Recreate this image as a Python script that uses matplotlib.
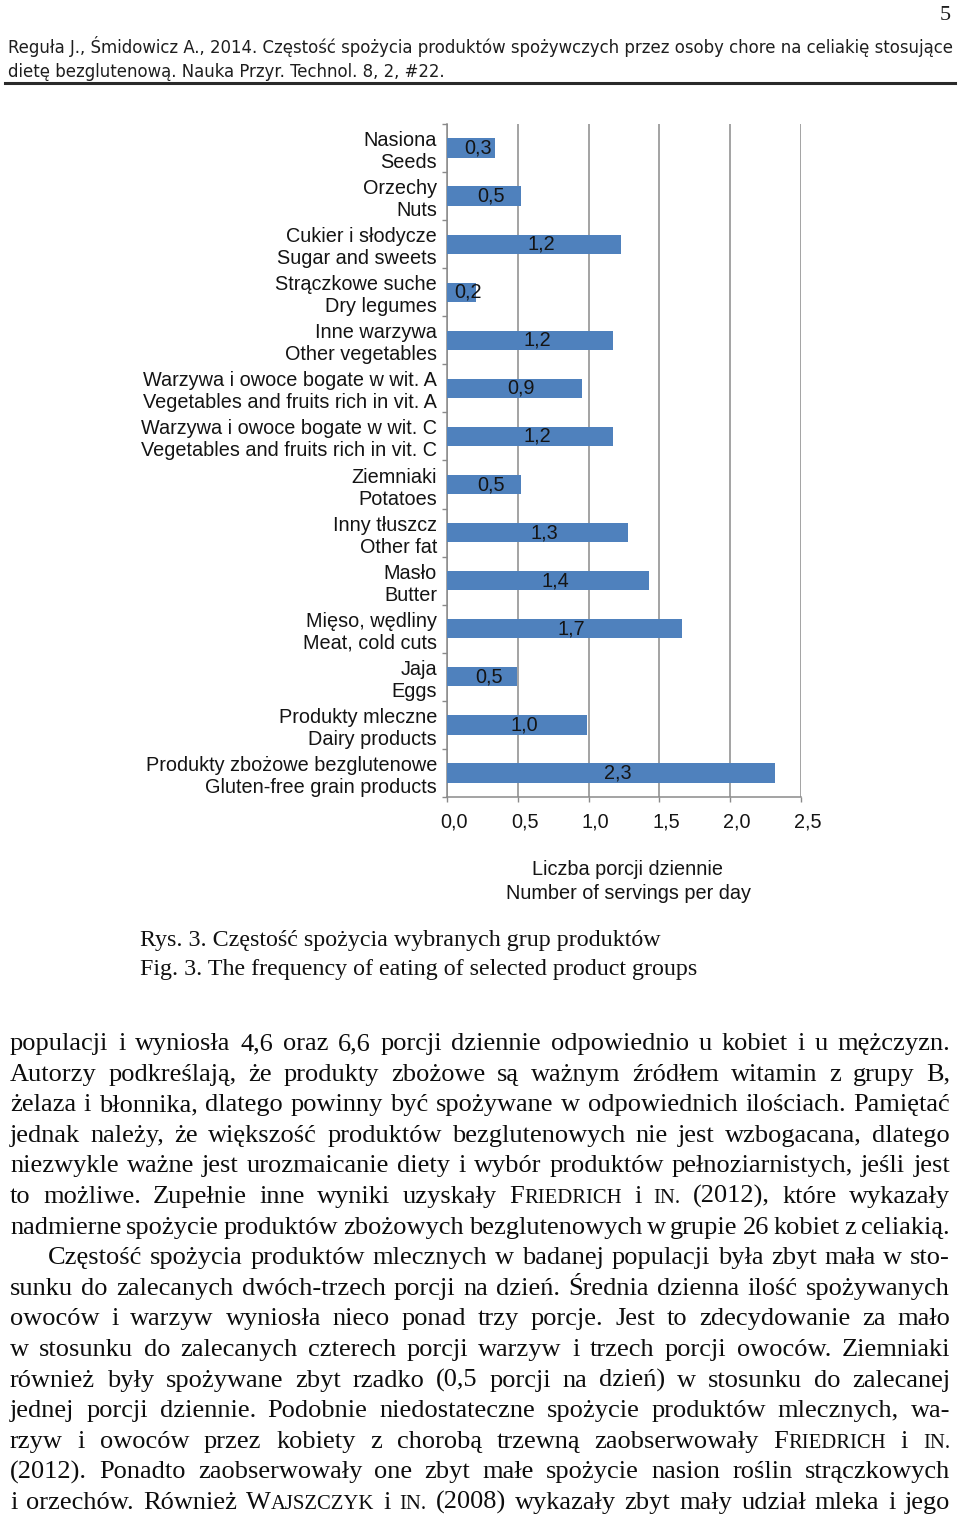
import numpy as np
import matplotlib
matplotlib.use("Agg")
import matplotlib.pyplot as plt
from matplotlib.lines import Line2D
from matplotlib.transforms import ScaledTranslation

# ---------------- data ----------------
categories = [
    "Nasiona\nSeeds",
    "Orzechy\nNuts",
    "Cukier i słodycze\nSugar and sweets",
    "Strączkowe suche\nDry legumes",
    "Inne warzywa\nOther vegetables",
    "Warzywa i owoce bogate w wit. A\nVegetables and fruits rich in vit. A",
    "Warzywa i owoce bogate w wit. C\nVegetables and fruits rich in vit. C",
    "Ziemniaki\nPotatoes",
    "Inny tłuszcz\nOther fat",
    "Masło\nButter",
    "Mięso, wędliny\nMeat, cold cuts",
    "Jaja\nEggs",
    "Produkty mleczne\nDairy products",
    "Produkty zbożowe bezglutenowe\nGluten-free grain products",
]
values = [0.34, 0.52, 1.23, 0.20, 1.17, 0.95, 1.17, 0.52, 1.28, 1.43, 1.66, 0.49, 0.99, 2.32]
value_labels = ["0,3", "0,5", "1,2", "0,2", "1,2", "0,9", "1,2", "0,5", "1,3", "1,4", "1,7", "0,5", "1,0", "2,3"]
xticks = [0.0, 0.5, 1.0, 1.5, 2.0, 2.5]
xtick_labels = ["0,0", "0,5", "1,0", "1,5", "2,0", "2,5"]
xlabel = "Liczba porcji dziennie\nNumber of servings per day"

header_lines = [
    "Reguła J., Śmidowicz A., 2014. Częstość spożycia produktów spożywczych przez osoby chore na celiakię stosujące",
    "dietę bezglutenową. Nauka Przyr. Technol. 8, 2, #22.",
]
page_number = "5"
caption_lines = [
    "Rys. 3. Częstość spożycia wybranych grup produktów",
    "Fig. 3. The frequency of eating of selected product groups",
]
body_lines = [
    "populacji i wyniosła 4,6 oraz 6,6 porcji dziennie odpowiednio u kobiet i u mężczyzn.",
    "Autorzy podkreślają, że produkty zbożowe są ważnym źródłem witamin z grupy B,",
    "żelaza i błonnika, dlatego powinny być spożywane w odpowiednich ilościach. Pamiętać",
    "jednak należy, że większość produktów bezglutenowych nie jest wzbogacana, dlatego",
    "niezwykle ważne jest urozmaicanie diety i wybór produktów pełnoziarnistych, jeśli jest",
    "to możliwe. Zupełnie inne wyniki uzyskały FRIEDRICH i IN. (2012), które wykazały",
    "nadmierne spożycie produktów zbożowych bezglutenowych w grupie 26 kobiet z celiakią.",
    "Częstość spożycia produktów mlecznych w badanej populacji była zbyt mała w sto-",
    "sunku do zalecanych dwóch-trzech porcji na dzień. Średnia dzienna ilość spożywanych",
    "owoców i warzyw wyniosła nieco ponad trzy porcje. Jest to zdecydowanie za mało",
    "w stosunku do zalecanych czterech porcji warzyw i trzech porcji owoców. Ziemniaki",
    "również były spożywane zbyt rzadko (0,5 porcji na dzień) w stosunku do zalecanej",
    "jednej porcji dziennie. Podobnie niedostateczne spożycie produktów mlecznych, wa-",
    "rzyw i owoców przez kobiety z chorobą trzewną zaobserwowały FRIEDRICH i IN.",
    "(2012). Ponadto zaobserwowały one zbyt małe spożycie nasion roślin strączkowych",
    "i orzechów. Również WAJSZCZYK i IN. (2008) wykazały zbyt mały udział mleka i jego",
]
indented_lines = [7]
small_caps = {"FRIEDRICH": [("F", 1.0), ("RIEDRICH", 0.78)],
              "WAJSZCZYK": [("W", 1.0), ("AJSZCZYK", 0.78)],
              "IN.": [("IN.", 0.78)]}

# ---------------- figure ----------------
W, H = 960, 1517
fig = plt.figure(figsize=(W / 100, H / 100), dpi=100)
fig.patch.set_facecolor("white")
renderer = fig.canvas.get_renderer()

def fx(x):
    return x / W

def fy(y):
    return 1 - y / H

SANS = ["Liberation Sans", "DejaVu Sans"]
SERIF = ["Liberation Serif", "DejaVu Serif"]
GRAY = "#8a8a8a"
TXT = "#141414"
FS = 14.3

# ---------------- chart ----------------
ax_l, ax_r, ax_t, ax_b = 447.3, 800.5, 124, 797
ax = fig.add_axes([fx(ax_l), fy(ax_b), (ax_r - ax_l) / W, (ax_b - ax_t) / H])
n = len(categories)
pos = np.arange(n)
ax.barh(pos, values, height=0.4, color="#4F81BD", zorder=3)
ax.set_ylim(n - 0.5, -0.5)
ax.set_xlim(0, 2.5)
ax.set_xticks(xticks)
ax.set_xticklabels(xtick_labels, fontsize=FS, family=SANS, color=TXT)
ax.set_yticks(pos)
ax.set_yticklabels(categories, fontsize=FS, family=SANS, color=TXT)
ax.set_yticks(np.arange(n + 1) - 0.5, minor=True)
ax.tick_params(axis="y", which="major", length=0, pad=7.5)
ax.tick_params(axis="y", which="minor", length=3.5, width=1, color=GRAY, direction="out")
ax.tick_params(axis="x", which="major", length=3.5, width=1, color=GRAY, direction="out", pad=8)
ax.grid(axis="x", color=GRAY, lw=1.1, zorder=0)
ax.set_axisbelow(True)
for s in ["top", "right"]:
    ax.spines[s].set_visible(False)
for s in ["left", "bottom"]:
    ax.spines[s].set_color(GRAY)
    ax.spines[s].set_linewidth(1.1)

shift = ScaledTranslation(5 / 72, 0, fig.dpi_scale_trans)
for lab in ax.get_xticklabels():
    lab.set_transform(lab.get_transform() + shift)

for i, (v, lab) in enumerate(zip(values, value_labels)):
    ax.annotate(lab, (v / 2, i), xytext=(5, 0), textcoords="offset points",
                ha="center", va="center", fontsize=FS, family=SANS, color=TXT, zorder=4)

ax.set_xlabel(xlabel, fontsize=FS, family=SANS, color=TXT, linespacing=1.32)
ax.xaxis.set_label_coords((628 - ax_l) / (ax_r - ax_l), -(860 - ax_b) / (ax_b - ax_t))
ax.xaxis.label.set_va("top")

# ---------------- helpers for page text ----------------
def measure(s, size, family, **kw):
    t = fig.text(0, 0, s, fontsize=size, family=family, **kw)
    w = t.get_window_extent(renderer).width
    t.remove()
    return w

# header
HFAM = ["DejaVu Sans"]
h0 = measure(header_lines[0], 10, HFAM, fontstretch="condensed")
hsize = 10 * 944 / h0
for k, line in enumerate(header_lines):
    fig.text(fx(8), fy(53 + 24 * k), line, fontsize=hsize, family=HFAM,
             fontstretch="condensed", color="#1e1e1e", ha="left", va="baseline")
fig.add_artist(Line2D([fx(5), fx(955)], [fy(83), fy(83)], transform=fig.transFigure,
                      color="#2a2a2a", lw=2.2))
fig.text(fx(951), fy(20), page_number, fontsize=16, family=SERIF, color="#1e1e1e",
         ha="right", va="baseline")

# caption
for k, line in enumerate(caption_lines):
    fig.text(fx(140), fy(946 + 29 * k), line, fontsize=17.3, family=SERIF,
             color="#111111", ha="left", va="baseline")

# body (justified)
def token_segments(tok):
    return small_caps.get(tok, [(tok, 1.0)])

x_left, x_right = 10, 950
indent = 38
s0 = 18.0
space0 = measure("n n", s0, SERIF) - measure("nn", s0, SERIF)
ratios = []
for i, line in enumerate(body_lines):
    toks = line.split()
    wsum = sum(measure(seg, s0 * sc, SERIF) for t in toks for seg, sc in token_segments(t))
    avail = x_right - x_left - (indent if i in indented_lines else 0)
    ratios.append(avail / (wsum + 0.72 * space0 * (len(toks) - 1)))
bsize = s0 * min(ratios)

for i, line in enumerate(body_lines):
    toks = line.split()
    base = 1050 + i * 30.6
    x0 = x_left + (indent if i in indented_lines else 0)
    widths = []
    for t in toks:
        widths.append([measure(seg, bsize * sc, SERIF) for seg, sc in token_segments(t)])
    total = sum(sum(w) for w in widths)
    gap = (x_right - x0 - total) / (len(toks) - 1)
    x = x0
    for t, ws in zip(toks, widths):
        for (seg, sc), w in zip(token_segments(t), ws):
            fig.text(fx(x), fy(base), seg, fontsize=bsize * sc, family=SERIF,
                     color="#0d0d0d", ha="left", va="baseline")
            x += w
        x += gap

fig.savefig("out.png", dpi=100, facecolor="white")
